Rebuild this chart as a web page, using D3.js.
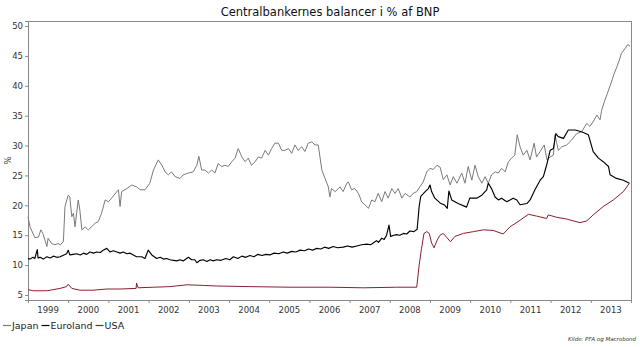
<!DOCTYPE html>
<html><head><meta charset="utf-8">
<script src="https://cdn.jsdelivr.net/npm/d3@7"></script>
<style>
html,body{margin:0;padding:0;background:#fff;}
svg{display:block;font-family:"DejaVu Sans",Verdana,sans-serif;}
</style></head>
<body><svg id="c" width="640" height="347"></svg>
<script>
const title = "Centralbankernes balancer i % af BNP";
const seriesNames = ["Japan", "Euroland", "USA"];
const yTicks = [5,10,15,20,25,30,35,40,45,50];
const yearLabels = [1999,2000,2001,2002,2003,2004,2005,2006,2007,2008,2009,2010,2011,2012,2013];

// [decimal year, % of GDP]
const japan = [
[1999.00,18.1],[1999.05,16.4],[1999.17,14.6],[1999.26,14.7],[1999.32,15.9],[1999.37,15.3],[1999.47,13.1],[1999.50,14.5],
[1999.59,13.6],[1999.67,13.4],[1999.75,13.6],[1999.80,13.4],[1999.88,13.9],[1999.92,19.8],[2000.00,21.7],[2000.04,21.4],
[2000.09,18.1],[2000.13,18.7],[2000.17,16.4],[2000.21,18.7],[2000.25,20.9],[2000.29,19.2],[2000.34,15.9],[2000.42,16.4],
[2000.50,15.9],[2000.58,16.4],[2000.67,17.0],[2000.75,17.3],[2000.83,18.7],[2000.92,20.9],[2001.00,20.6],[2001.08,21.2],
[2001.21,22.3],[2001.25,22.6],[2001.29,19.8],[2001.33,22.3],[2001.46,22.8],[2001.58,23.4],[2001.70,23.1],[2001.79,22.6],
[2001.91,22.6],[2002.03,23.7],[2002.12,25.9],[2002.24,27.6],[2002.33,26.7],[2002.41,25.6],[2002.49,25.1],[2002.57,25.6],
[2002.66,24.8],[2002.78,24.5],[2002.86,25.1],[2002.99,25.4],[2003.11,25.6],[2003.20,26.7],[2003.25,28.2],[2003.32,25.9],
[2003.40,25.9],[2003.49,25.4],[2003.57,25.9],[2003.65,25.4],[2003.73,27.0],[2003.82,26.5],[2003.90,26.7],[2003.98,26.5],
[2004.07,27.3],[2004.15,27.9],[2004.23,29.5],[2004.32,28.1],[2004.40,27.3],[2004.48,27.9],[2004.56,26.7],[2004.65,27.3],
[2004.73,28.1],[2004.81,27.9],[2004.90,29.2],[2004.98,28.4],[2005.06,29.5],[2005.14,30.4],[2005.23,30.4],[2005.31,29.2],
[2005.39,29.2],[2005.48,29.5],[2005.56,28.7],[2005.64,30.1],[2005.72,29.2],[2005.81,29.8],[2005.89,29.0],[2005.97,30.4],
[2006.06,30.6],[2006.14,30.1],[2006.22,30.1],[2006.31,25.9],[2006.39,24.5],[2006.47,23.1],[2006.51,21.4],[2006.55,22.8],
[2006.64,22.3],[2006.72,22.8],[2006.76,23.1],[2006.84,22.3],[2006.93,23.7],[2006.97,23.9],[2007.05,22.6],[2007.13,22.8],
[2007.22,22.0],[2007.30,20.6],[2007.38,20.1],[2007.47,19.5],[2007.55,20.9],[2007.63,20.6],[2007.71,22.0],[2007.80,20.6],
[2007.88,22.3],[2007.96,21.2],[2008.05,22.8],[2008.13,22.0],[2008.21,22.8],[2008.30,21.2],[2008.38,22.0],[2008.50,21.4],
[2008.58,22.0],[2008.67,22.3],[2008.75,23.1],[2008.83,23.9],[2008.92,25.6],[2009.00,26.2],[2009.08,26.0],[2009.17,26.7],
[2009.25,26.4],[2009.33,24.3],[2009.42,25.1],[2009.50,23.4],[2009.58,24.8],[2009.67,23.7],[2009.79,25.4],[2009.87,23.7],
[2009.95,26.5],[2010.04,24.2],[2010.12,26.7],[2010.20,24.8],[2010.29,23.7],[2010.37,24.8],[2010.45,23.7],[2010.53,25.1],
[2010.62,25.6],[2010.70,25.4],[2010.78,26.2],[2010.87,25.6],[2010.95,27.3],[2011.03,27.9],[2011.11,28.4],[2011.17,31.8],
[2011.24,29.8],[2011.32,28.4],[2011.41,29.2],[2011.49,27.6],[2011.59,30.4],[2011.65,28.1],[2011.74,29.0],[2011.84,30.1],
[2011.91,27.6],[2011.99,28.1],[2012.07,28.4],[2012.11,31.8],[2012.19,29.2],[2012.28,29.8],[2012.40,30.1],[2012.52,30.9],
[2012.65,32.0],[2012.77,32.3],[2012.90,33.7],[2012.98,33.2],[2013.06,34.0],[2013.15,35.1],[2013.23,34.3],[2013.27,35.9],
[2013.35,37.6],[2013.40,38.5],[2013.48,40.0],[2013.53,41.0],[2013.58,42.0],[2013.65,43.2],[2013.71,44.3],[2013.76,45.4],
[2013.86,46.3],[2013.92,46.9],[2013.98,46.6]
];
const euroland = [
[1999.00,11.1],[1999.05,11.0],[1999.12,11.3],[1999.17,11.1],[1999.23,12.6],[1999.25,11.2],[1999.30,11.3],[1999.38,11.0],[1999.47,11.4],
[1999.55,11.2],[1999.63,11.5],[1999.72,11.3],[1999.80,11.4],[1999.96,11.9],[2000.00,12.5],[2000.04,11.7],[2000.12,11.8],[2000.21,11.9],[2000.30,11.7],[2000.38,12.0],[2000.46,11.8],[2000.54,12.2],
[2000.63,12.0],[2000.71,12.2],[2000.80,12.1],[2000.87,12.5],[2000.96,12.8],[2001.04,12.2],[2001.12,12.4],[2001.21,12.2],[2001.29,12.0],[2001.37,12.2],[2001.46,11.9],[2001.54,12.0],[2001.62,11.7],[2001.70,11.4],
[2001.83,11.4],[2001.91,11.1],[2001.99,12.5],[2002.08,11.7],[2002.14,11.4],[2002.20,11.1],[2002.29,11.3],[2002.37,11.0],[2002.45,11.1],[2002.53,10.9],[2002.62,10.8],[2002.70,10.7],
[2002.78,10.9],[2002.86,10.7],[2002.99,11.3],[2003.07,10.9],[2003.15,10.9],[2003.20,10.4],[2003.28,10.8],[2003.36,10.9],[2003.45,10.6],[2003.53,10.9],[2003.61,10.7],[2003.69,10.9],
[2003.80,10.8],[2003.92,11.1],[2004.02,10.9],[2004.11,11.4],[2004.22,11.1],[2004.32,11.5],[2004.42,11.3],[2004.52,11.6],[2004.62,11.4],[2004.72,11.8],[2004.82,11.6],[2004.92,11.8],
[2005.02,11.7],[2005.12,12.0],[2005.24,11.9],[2005.35,12.2],[2005.45,12.0],[2005.56,12.3],[2005.66,12.2],[2005.77,12.5],[2005.88,12.4],[2005.98,12.7],[2006.08,12.5],[2006.18,12.8],
[2006.28,12.7],[2006.38,13.0],[2006.48,12.8],[2006.59,13.1],[2006.70,12.9],[2006.84,13.0],[2006.95,13.2],[2007.06,13.0],
[2007.18,13.2],[2007.30,13.4],[2007.43,13.5],[2007.52,13.4],[2007.59,13.7],[2007.67,14.1],[2007.72,13.8],[2007.80,14.5],[2007.86,14.3],[2007.92,15.0],[2007.98,16.7],[2008.02,14.8],
[2008.10,15.0],[2008.17,15.1],[2008.25,15.0],[2008.34,15.3],[2008.42,15.2],[2008.50,15.7],[2008.60,15.6],[2008.68,16.0],[2008.73,19.8],[2008.77,21.5],[2008.88,22.3],[2008.96,22.8],
[2009.00,23.4],[2009.04,22.3],[2009.12,21.2],[2009.25,20.4],[2009.37,20.0],[2009.43,19.5],[2009.47,22.4],[2009.54,20.9],
[2009.70,20.3],[2009.91,19.7],[2009.99,21.2],[2010.16,21.2],[2010.29,21.7],[2010.41,22.6],[2010.45,23.7],[2010.53,22.8],
[2010.62,21.4],[2010.70,20.9],[2010.78,21.2],[2010.91,20.6],[2011.07,21.2],[2011.16,20.9],[2011.24,20.1],[2011.41,20.3],
[2011.49,20.9],[2011.61,22.6],[2011.74,24.2],[2011.82,24.8],[2011.90,26.7],[2011.99,29.2],[2012.07,29.5],[2012.13,32.0],
[2012.19,31.5],[2012.32,31.2],[2012.44,32.6],[2012.61,32.6],[2012.77,32.3],[2012.94,31.8],[2013.06,29.0],[2013.19,27.9],
[2013.31,27.3],[2013.44,26.5],[2013.48,25.1],[2013.64,24.5],[2013.81,24.2],[2013.96,23.7]
];
const usa = [
[1999.00,5.9],[1999.13,5.7],[1999.47,5.7],[1999.80,6.1],[1999.96,6.4],[2000.00,6.8],[2000.09,6.1],[2000.29,5.8],
[2000.62,5.8],[2000.96,6.0],[2001.29,6.0],[2001.69,6.1],[2001.70,7.0],[2001.74,6.2],[2002.12,6.3],[2002.53,6.4],
[2002.95,6.7],[2003.36,6.6],[2003.69,6.5],[2004.52,6.4],[2005.52,6.3],[2006.51,6.3],[2007.34,6.2],[2008.17,6.3],
[2008.67,6.3],[2008.73,10.0],[2008.79,12.8],[2008.85,15.3],[2008.92,15.6],[2008.98,15.3],[2009.04,13.7],[2009.10,12.9],
[2009.18,14.2],[2009.25,15.0],[2009.33,15.3],[2009.42,14.6],[2009.51,13.9],[2009.62,14.8],[2009.83,15.3],[2010.08,15.6],
[2010.33,15.9],[2010.57,15.8],[2010.82,15.2],[2010.99,16.4],[2011.24,17.5],[2011.45,18.5],[2011.65,18.2],[2011.90,17.8],
[2011.94,18.4],[2012.15,18.0],[2012.40,17.7],[2012.73,17.1],[2012.90,17.4],[2013.06,18.4],[2013.31,19.8],[2013.56,20.9],
[2013.81,22.3],[2013.96,23.7]
];
const colors = ["#7a7a7a", "#000000", "#8a1e2e"];
const widths = [1.0, 1.15, 1.0];

const svg = d3.select("#c");
const L = 28, R = 631, T = 21, B = 300;
const x = d3.scaleLinear().domain([1999, 2014]).range([L, R]);
const y = d3.scaleLinear().domain([4.16, 50.84]).range([B, T]);

svg.append("text").attr("x", 330).attr("y", 16).attr("text-anchor", "middle")
  .attr("font-size", 11.5).attr("fill", "#111").text(title);

// frame
svg.append("rect").attr("x", L).attr("y", T).attr("width", R - L).attr("height", B - T)
  .attr("fill", "none").attr("stroke", "#8a8a8a").attr("stroke-width", 1).attr("shape-rendering","crispEdges");

// y axis
const yAxis = svg.append("g").attr("transform", `translate(${L},0)`)
  .call(d3.axisLeft(y).tickValues(yTicks).tickSize(3).tickPadding(2));
yAxis.select(".domain").attr("stroke", "#8a8a8a");
yAxis.selectAll(".tick line").attr("stroke", "#8a8a8a");
yAxis.selectAll("text").attr("font-size", 8.5).attr("fill", "#333").attr("font-family", "DejaVu Sans");

// x axis: ticks at year boundaries, labels centered in each year
const xAxis = svg.append("g").attr("transform", `translate(0,${B})`)
  .call(d3.axisBottom(x).tickValues(d3.range(2000, 2014)).tickSize(3).tickFormat(""));
xAxis.select(".domain").attr("stroke", "#8a8a8a");
xAxis.selectAll(".tick line").attr("stroke", "#8a8a8a");
svg.append("g").selectAll("text").data(yearLabels).join("text")
  .attr("x", d => x(d + 0.5)).attr("y", 313).attr("text-anchor", "middle")
  .attr("font-size", 8.5).attr("fill", "#333").text(d => d);

svg.append("text").attr("transform", `translate(11,${y(27.5)}) rotate(-90)`)
  .attr("text-anchor", "middle").attr("font-size", 8.5).attr("fill", "#333").text("%");

const line = d3.line().x(d => x(d[0])).y(d => y(d[1]));
[japan, euroland, usa].forEach((s, i) => {
  svg.append("path").datum(s).attr("d", line).attr("fill", "none")
    .attr("stroke", colors[i]).attr("stroke-width", widths[i]).attr("stroke-linejoin", "round");
});

// legend
let lx = 3;
seriesNames.forEach((n, i) => {
  svg.append("line").attr("x1", lx).attr("x2", lx + 8).attr("y1", 325.5).attr("y2", 325.5)
    .attr("stroke", colors[i]).attr("stroke-width", 1.2);
  const t = svg.append("text").attr("x", lx + 9).attr("y", 329).attr("font-size", 9.5).attr("fill", "#222").text(n);
  lx += 9 + t.node().getComputedTextLength() + 3;
});

svg.append("text").attr("x", 636).attr("y", 341).attr("text-anchor", "end")
  .attr("font-size", 5.5).attr("font-style", "italic").attr("fill", "#333").text("Kilde: PFA og Macrobond");
</script></body></html>
